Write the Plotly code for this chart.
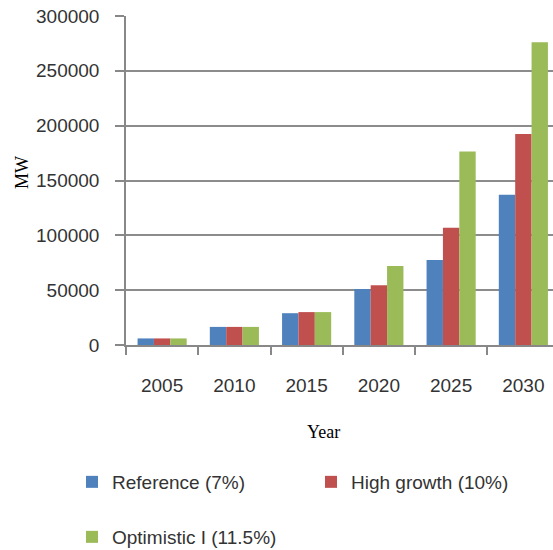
import plotly.graph_objects as go

years = ["2005", "2010", "2015", "2020", "2025", "2030"]
reference = [6000, 16500, 29000, 51000, 77500, 137000]
high_growth = [6000, 16500, 30000, 54500, 107000, 192500]
optimistic = [6000, 16500, 30000, 72000, 176500, 276000]

series = [
    ("Reference (7%)", reference, "#4F81BD", "legend", 72, 482),
    ("High growth (10%)", high_growth, "#C0504D", "legend2", 311, 482),
    ("Optimistic I (11.5%)", optimistic, "#9BBB59", "legend3", 72, 537),
]

W, H = 553, 550
fig = go.Figure()
for name, vals, col, lg, lx, ly in series:
    fig.add_trace(go.Bar(x=years, y=vals, name=name, marker=dict(color=col, line=dict(width=0)),
                         legend=lg))

font_tick = dict(family="Liberation Sans", size=19, color="#333333")
legend_common = dict(orientation="h", xref="container", yref="container", xanchor="left",
                     yanchor="middle", font=dict(family="Liberation Sans", size=19, color="#333333"),
                     bgcolor="rgba(0,0,0,0)", borderwidth=0)
layout_legends = {}
for name, vals, col, lg, lx, ly in series:
    layout_legends[lg] = dict(x=lx / W, y=1 - ly / H, **legend_common)

fig.update_layout(
    width=W, height=H,
    margin=dict(l=126, r=0, t=16, b=205),
    paper_bgcolor="white", plot_bgcolor="white",
    barmode="group", bargap=0.32, bargroupgap=0,
    showlegend=True,
    **layout_legends,
    xaxis=dict(type="category", range=[-0.5, 5.41], tickson="boundaries", ticks="outside",
               ticklen=8, tickcolor="#888888", tickwidth=1.5, showline=True, linecolor="#888888",
               linewidth=1.5, showgrid=False, tickfont=font_tick, ticklabelstandoff=22),
    yaxis=dict(range=[0, 300000], tickvals=[0, 50000, 100000, 150000, 200000, 250000, 300000],
               ticktext=["0", "50000", "100000", "150000", "200000", "250000", "300000"],
               ticks="outside", ticklen=9, tickcolor="#888888", tickwidth=1.5,
               showline=True, linecolor="#888888", linewidth=1.5,
               showgrid=True, gridcolor="#8c8c8c", gridwidth=1.5, zeroline=False,
               tickfont=font_tick, ticklabelstandoff=12),
    annotations=[
        dict(text="Year", xref="paper", yref="paper", x=(323 - 126) / (W - 126), y=-(432 - 345) / 329,
             showarrow=False, font=dict(family="Liberation Serif", size=18, color="#000000"),
             xanchor="center", yanchor="middle"),
        dict(text="MW", xref="paper", yref="paper", x=-(126 - 22) / (W - 126), y=(345 - 173) / 329,
             showarrow=False, textangle=-90, font=dict(family="Liberation Serif", size=18, color="#000000"),
             xanchor="center", yanchor="middle"),
    ],
)

fig.write_html("out.html")
